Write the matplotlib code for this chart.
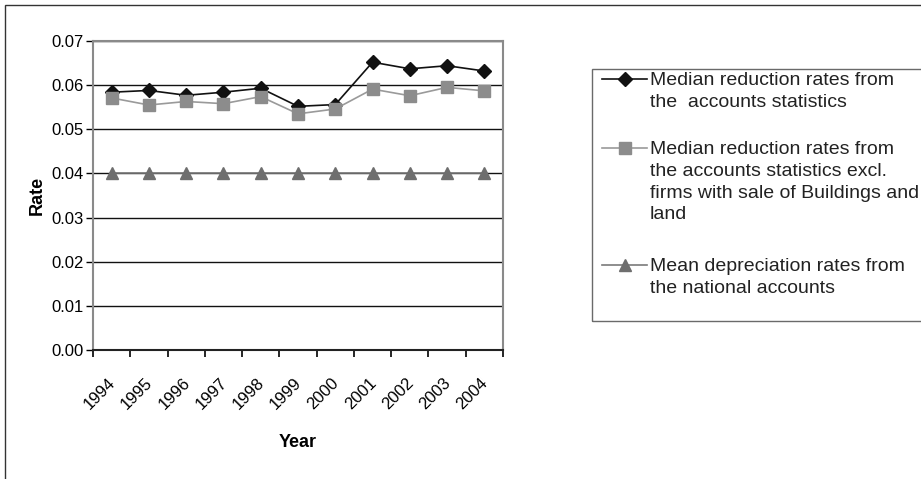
import matplotlib
matplotlib.use("Agg")

import matplotlib.pyplot as plt
import matplotlib.transforms as mtransforms
from matplotlib.lines import Line2D
from matplotlib.patches import Rectangle
import numpy as np

plt.rcParams["font.family"] = ["Liberation Sans", "DejaVu Sans"]

years = ["1994", "1995", "1996", "1997", "1998", "1999",
         "2000", "2001", "2002", "2003", "2004"]
median_rates = [0.0584, 0.0588, 0.0577, 0.0584, 0.0593, 0.0552,
                0.0556, 0.0652, 0.0637, 0.0644, 0.0632]
median_rates_excl = [0.0571, 0.0555, 0.0563, 0.0558, 0.0574, 0.0535,
                     0.0546, 0.0591, 0.0576, 0.0595, 0.0587]
national_rates = [0.040, 0.040, 0.040, 0.040, 0.040, 0.040,
                  0.040, 0.040, 0.040, 0.040, 0.040]
y_ticks = [0.00, 0.01, 0.02, 0.03, 0.04, 0.05, 0.06, 0.07]

series_labels = [
    "Median reduction rates from\nthe  accounts statistics",
    "Median reduction rates from\nthe accounts statistics excl.\n"
    "firms with sale of Buildings and\nland",
    "Mean depreciation rates from\nthe national accounts",
]

W, H = 921, 479
fig = plt.figure(figsize=(W / 100, H / 100), dpi=100)


def fx(x):
    return x / W


def fy(y):
    # pixel from top -> figure fraction
    return 1 - y / H


# outer chart frame (runs off the right and bottom edges)
fig.patches.append(Rectangle((fx(5), fy(490)), fx(940) - fx(5), fy(5) - fy(490),
                             transform=fig.transFigure, fill=False,
                             edgecolor="#333333", linewidth=1.0))

ax = fig.add_axes([fx(93), fy(350), fx(503) - fx(93), fy(41) - fy(350)])

x = np.arange(len(years)) + 0.5
styles = [
    dict(color="#111111", marker="D", markersize=7.5, mfc="#111111", mec="#111111", lw=1.2),
    dict(color="#9a9a9a", marker="s", markersize=8, mfc="#8c8c8c", mec="#8c8c8c", lw=1.2),
    dict(color="#7a7a7a", marker="^", markersize=8, mfc="#6e6e6e", mec="#6e6e6e", lw=1.2),
]
for vals, st in zip([median_rates, median_rates_excl, national_rates], styles):
    ax.plot(x, vals, zorder=3, clip_on=False, **st)

ax.set_xlim(0, len(years))
ax.set_ylim(0, 0.07)
ax.set_yticks(y_ticks)
ax.set_yticklabels([f"{v:.2f}" for v in y_ticks], fontsize=12)
ax.yaxis.grid(True, color="#111111", linewidth=1.0)
ax.set_axisbelow(True)

ax.set_xticks(np.arange(len(years) + 1))
ax.set_xticklabels([])
ax.set_xticks(x, minor=True)
ax.set_xticklabels(years, minor=True, rotation=45, ha="right", va="top",
                   rotation_mode="anchor", fontsize=12)
ax.tick_params(axis="x", which="minor", length=0, pad=18)
ax.tick_params(axis="x", which="major", length=5, width=1.2, direction="out")
ax.tick_params(axis="y", length=5, width=1.0, direction="out", pad=2)
shift = mtransforms.ScaledTranslation(-4 / 100, 0, fig.dpi_scale_trans)
for lab in ax.get_xticklabels(minor=True):
    lab.set_transform(lab.get_transform() + shift)

for side in ["top", "right", "left"]:
    ax.spines[side].set_color("#8a8a8a")
    ax.spines[side].set_linewidth(1.5)
ax.spines["bottom"].set_color("#222222")
ax.spines["bottom"].set_linewidth(1.5)

ax.set_xlabel("Year", fontsize=13, fontweight="bold", labelpad=16)
ax.set_ylabel("Rate", fontsize=13, fontweight="bold", labelpad=4)

# legend box drawn by hand so the handle sits on the first text line
fig.patches.append(Rectangle((fx(592), fy(321)), fx(940) - fx(592), fy(69) - fy(321),
                             transform=fig.transFigure, fill=False,
                             edgecolor="#6a6a6a", linewidth=1.0))
entry_y = [79, 148, 265]
for label, st, ey in zip(series_labels, styles, entry_y):
    fig.add_artist(Line2D([fx(602), fx(647)], [fy(ey), fy(ey)],
                          transform=fig.transFigure, color=st["color"], lw=st["lw"]))
    fig.add_artist(Line2D([fx(624.5)], [fy(ey)], transform=fig.transFigure,
                          marker=st["marker"], markersize=st["markersize"],
                          mfc=st["mfc"], mec=st["mec"], lw=0))
    fig.text(fx(650), fy(ey - 7), label, ha="left", va="top",
             fontsize=14, linespacing=1.37, color="#222222")

fig.savefig("out.png", dpi=100)
